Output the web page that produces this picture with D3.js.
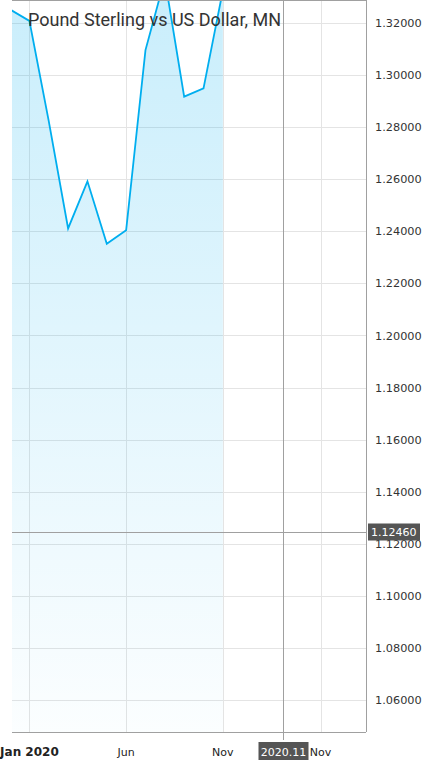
<!DOCTYPE html>
<html>
<head>
<script src="https://cdn.jsdelivr.net/npm/d3@7"></script>
<style type="text/css">
  body { margin: 0; background: #fff; }
  text { font-family: "DejaVu Sans", sans-serif; }
</style>
</head>
<body>
<script>
// monthly closes, index 0 = Jan 2020 (Dec 2019 is -1)
var monthIdx = [-1, 0, 1, 2, 3, 4, 5, 6, 7, 8, 9, 10];
var closes = [1.3252, 1.3208, 1.2823, 1.2411, 1.2592, 1.2352, 1.2404, 1.3096, 1.3370, 1.2917, 1.2949, 1.3325];

var xTickIdx = [0, 5, 10, 15.05];
var xTickLabels = ["Jan 2020", "Jun", "Nov", "Nov"];
var yTicks = [1.06, 1.08, 1.10, 1.12, 1.14, 1.16, 1.18, 1.20, 1.22, 1.24, 1.26, 1.28, 1.30, 1.32];

var crossIdx = 13.1, crossLabel = "2020.11";
var crossValue = 1.1246;

var W = 423, H = 767;
var pLeft = 12, pRight = 366, pTop = 0, pBottom = 732;

var svg = d3.select("body").append("svg")
  .attr("width", W)
  .attr("height", H);

var x = d3.scaleLinear().domain([-0.9, 17.4]).range([pLeft, pRight]);
var y = d3.scaleLinear().domain([1.04773, 1.32883]).range([pBottom, pTop]);

var defs = svg.append("defs");
defs.append("clipPath").attr("id", "plot")
  .append("rect").attr("x", pLeft).attr("y", pTop)
  .attr("width", pRight - pLeft).attr("height", pBottom - pTop);

var grad = defs.append("linearGradient").attr("id", "fillGrad")
  .attr("gradientUnits", "userSpaceOnUse")
  .attr("x1", 0).attr("y1", pTop).attr("x2", 0).attr("y2", pBottom);
grad.append("stop").attr("offset", 0).attr("stop-color", "#00aeef").attr("stop-opacity", 0.21);
grad.append("stop").attr("offset", 1).attr("stop-color", "#00aeef").attr("stop-opacity", 0.015);

// grid
var grid = svg.append("g");
grid.selectAll(".hg").data(yTicks).enter().append("line")
  .attr("x1", pLeft).attr("x2", pRight)
  .attr("y1", function (d) { return Math.round(y(d)) + 0.5; })
  .attr("y2", function (d) { return Math.round(y(d)) + 0.5; })
  .attr("stroke", "#e4e4e4");
grid.selectAll(".vg").data(xTickIdx).enter().append("line")
  .attr("y1", pTop).attr("y2", pBottom)
  .attr("x1", function (d) { return Math.round(x(d)) + 0.5; })
  .attr("x2", function (d) { return Math.round(x(d)) + 0.5; })
  .attr("stroke", "#e4e4e4");

var data = monthIdx.map(function (m, i) { return { m: m, v: closes[i] }; });

var plot = svg.append("g").attr("clip-path", "url(#plot)");

var area = d3.area()
  .x(function (d) { return x(d.m); })
  .y0(pBottom)
  .y1(function (d) { return y(d.v); });
plot.append("path").datum(data)
  .attr("d", area)
  .attr("fill", "url(#fillGrad)");

var line = d3.line()
  .x(function (d) { return x(d.m); })
  .y(function (d) { return y(d.v); });
plot.append("path").datum(data)
  .attr("d", line)
  .attr("fill", "none")
  .attr("stroke", "#00aeef")
  .attr("stroke-width", 1.8);

// frame
svg.append("line").attr("x1", pLeft).attr("x2", pRight).attr("y1", 0.5).attr("y2", 0.5).attr("stroke", "#a0a0a0");
svg.append("line").attr("x1", pRight + 0.5).attr("x2", pRight + 0.5).attr("y1", 0).attr("y2", pBottom).attr("stroke", "#a0a0a0");
svg.append("line").attr("x1", pLeft).attr("x2", pRight).attr("y1", pBottom + 0.5).attr("y2", pBottom + 0.5).attr("stroke", "#a0a0a0");

// y labels
svg.selectAll(".yl").data(yTicks).enter().append("text")
  .attr("x", 375)
  .attr("y", function (d) { return y(d); })
  .attr("dy", "0.36em")
  .attr("font-size", 11.3)
  .attr("fill", "#333")
  .text(function (d) { return d3.format(".5f")(d); });

// x labels
svg.selectAll(".xl").data(xTickIdx).enter().append("text")
  .attr("x", function (d) { return x(d); })
  .attr("y", 756)
  .attr("text-anchor", "middle")
  .attr("font-size", function (d, i) { return i === 0 ? 12 : 11; })
  .attr("font-weight", function (d, i) { return i === 0 ? "bold" : "normal"; })
  .attr("fill", "#222")
  .text(function (d, i) { return xTickLabels[i]; });

// crosshair
var cx = Math.round(x(crossIdx)) + 0.5;
var cy = Math.round(y(crossValue)) + 0.5;
svg.append("line").attr("x1", cx).attr("x2", cx).attr("y1", 0).attr("y2", 740).attr("stroke", "#a0a0a0");
svg.append("line").attr("x1", pLeft).attr("x2", pRight).attr("y1", cy).attr("y2", cy).attr("stroke", "#a0a0a0");

svg.append("rect").attr("x", 368).attr("y", cy - 9).attr("width", 52).attr("height", 17).attr("fill", "#555");
svg.append("text").attr("x", 371).attr("y", cy).attr("dy", "0.36em")
  .attr("font-size", 11).attr("fill", "#fff")
  .text(d3.format(".5f")(crossValue));

svg.append("rect").attr("x", cx - 25).attr("y", 742).attr("width", 50).attr("height", 18).attr("fill", "#555");
svg.append("text").attr("x", cx).attr("y", 756).attr("text-anchor", "middle")
  .attr("font-size", 11).attr("fill", "#fff")
  .text(crossLabel);

// title
svg.append("text")
  .attr("x", 28)
  .attr("y", 26)
  .style("font-family", "Roboto, sans-serif")
  .attr("font-size", 18)
  .attr("fill", "#333")
  .text("Pound Sterling vs US Dollar, MN");
</script>
</body>
</html>
